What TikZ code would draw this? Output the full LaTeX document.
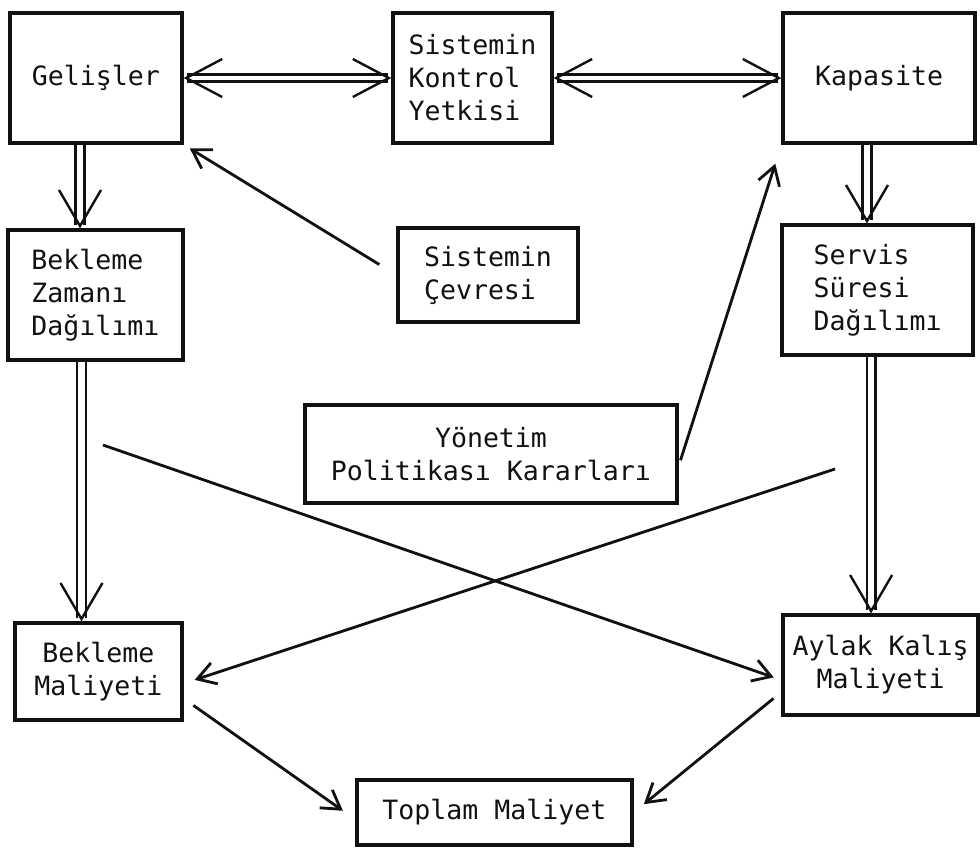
\documentclass[tikz,border=0pt]{standalone}
\usepackage{fontspec}
\newfontfamily\daktilo{DejaVu Sans Mono}
\usepackage{tikz}
\usetikzlibrary{arrows.meta,calc}
\definecolor{Ink}{HTML}{111111}
\tikzset{
  kutu/.style={draw=Ink, line width=2.3pt, align=center, inner sep=0pt, text=Ink, font=\daktilo\fontsize{18.9}{23.5}\selectfont},
  arrow/.style={-{Straight Barb[length=4.5mm,width=5.5mm]}, line width=2pt, draw=Ink},
  dblarrow/.style={-{Straight Barb[length=9mm,width=10.5mm]}, double=white, double distance=4.5pt, line width=1.7pt, draw=Ink},
  dblboth/.style={dblarrow, {Straight Barb[length=9mm,width=9.5mm]}-{Straight Barb[length=9mm,width=9.5mm]}, double distance=3.5pt}
}

\begin{document}
\begin{tikzpicture}[x=0.025cm, y=-0.025cm]
  \useasboundingbox (0,0) rectangle (980,850);

  \node[kutu, minimum width=4.3cm, minimum height=3.25cm] (gelisler) at (96,78) {Gelişler};
  \node[kutu, align=left, minimum width=3.975cm, minimum height=3.25cm] (kontrol) at (472.5,78) {Sistemin\\Kontrol\\Yetkisi};
  \node[kutu, minimum width=4.8cm, minimum height=3.25cm] (kapasite) at (879,78) {Kapasite};

  \node[kutu, align=left, minimum width=4.375cm, minimum height=3.25cm] (bzaman) at (95.5,295) {Bekleme\\Zamanı\\Dağılımı};
  \node[kutu, align=left, minimum width=4.5cm, minimum height=2.35cm] (cevre) at (488,275) {Sistemin\\Çevresi};
  \node[kutu, align=left, minimum width=4.775cm, minimum height=3.25cm] (servis) at (877.5,290) {Servis\\Süresi\\Dağılımı};

  \node[kutu, minimum width=9.3cm, minimum height=2.45cm] (yonetim) at (491,454) {Yönetim\\Politikası Kararları};

  \node[kutu, minimum width=4.175cm, minimum height=2.425cm] (bmaliyet) at (98.5,671.5) {Bekleme\\Maliyeti};
  \node[kutu, minimum width=4.875cm, minimum height=2.5cm] (aylak) at (880.5,665) {Aylak Kalış\\Maliyeti};
  \node[kutu, minimum width=6.875cm, minimum height=1.625cm] (toplam) at (494.5,812.5) {Toplam Maliyet};

  \coordinate (bzcapraz) at (103,445);
  \coordinate (sscapraz) at (835,469);

  \draw[dblboth] (gelisler.east) -- (kontrol.west);
  \draw[dblboth] (kontrol.east) -- (kapasite.west);
  \draw[dblarrow] ([xshift=-0.4cm]gelisler.south) -- ([xshift=-0.4cm]gelisler.south |- bzaman.north);
  \draw[dblarrow] ([xshift=-0.35cm]bzaman.south) -- ([xshift=-0.35cm]bzaman.south |- bmaliyet.north);
  \draw[dblarrow] ([xshift=-0.3cm]kapasite.south) -- ([xshift=-0.3cm]kapasite.south |- servis.north);
  \draw[dblarrow] ([xshift=-0.16cm]servis.south) -- ([xshift=-0.16cm]servis.south |- aylak.north);

  \draw[arrow, shorten <=0.5cm, shorten >=0.18cm] (cevre.west) -- (gelisler.south east);
  \draw[arrow, shorten <=0.15cm, shorten >=0.5cm] ([yshift=-0.3cm]yonetim.east) -- (kapasite.south west);
  \draw[arrow, shorten >=0.2cm] (bzcapraz) -- ([yshift=-0.375cm]aylak.west);
  \draw[arrow, shorten >=0.29cm] (sscapraz) -- ([yshift=-0.3cm]bmaliyet.east);
  \draw[arrow, shorten <=0.3cm, shorten >=0.38cm] ([yshift=-0.675cm]bmaliyet.east) -- ([yshift=-0.175cm]toplam.west);
  \draw[arrow, shorten <=0.25cm, shorten >=0.33cm] ([yshift=-0.675cm]aylak.west) -- (toplam.east);
\end{tikzpicture}
\end{document}
